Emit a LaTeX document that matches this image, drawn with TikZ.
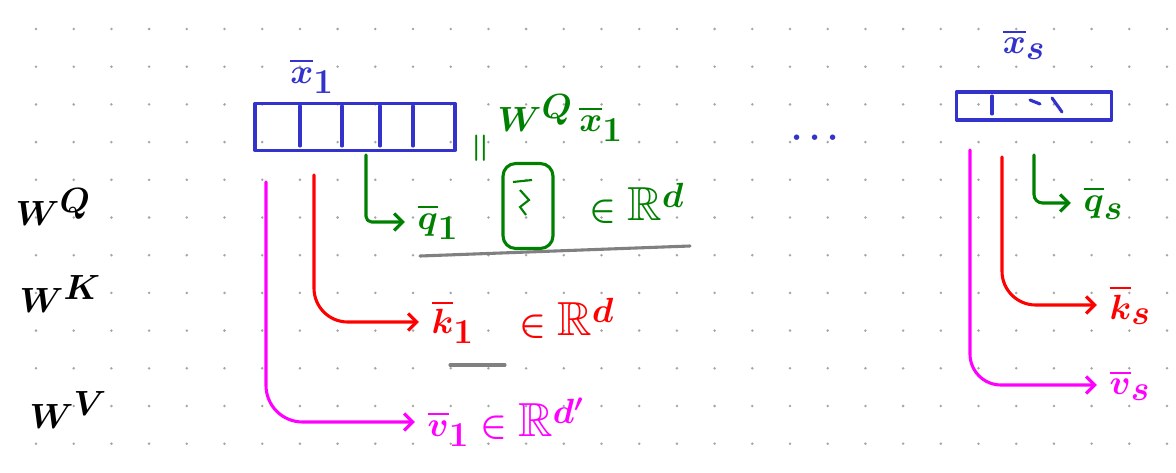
\documentclass[tikz,border=0pt]{standalone}
\usepackage{amssymb}
\usepackage{tikz}
\usetikzlibrary{arrows.meta}

\definecolor{penblue}{RGB}{51,51,204}
\definecolor{pengreen}{RGB}{0,128,0}
\definecolor{penred}{RGB}{255,0,0}
\definecolor{penpink}{RGB}{255,0,255}
\definecolor{pengray}{RGB}{128,128,128}

\tikzset{
  pen/.style={line width=2.2pt, line cap=round, line join=round},
  hand/.style={inner sep=1pt, anchor=west, font=\fontsize{34}{38}\selectfont\boldmath},
  arrowpen/.style={pen, ->, shorten >=8pt},
}

\begin{document}
\begin{tikzpicture}[x=0.025cm, y=-0.025cm, >={Straight Barb[length=6pt,width=12pt]}]
  \useasboundingbox (0,0) rectangle (1176,473);

  % dotted paper
  \foreach \i in {0,...,30}
    \foreach \j in {0,...,11}
      \fill[pengray!70] (36+37.7*\i, 29+37.7*\j) circle (1.4);

  % weight matrices on the left
  \node[hand] (WQ) at (14,207) {$W^{Q}$};
  \node[hand] (WK) at (18,294) {$W^{K}$};
  \node[hand] (WV) at (28,410) {$W^{V}$};

  % first token
  \node[pen, draw=penblue, minimum width=200*0.025cm, minimum height=47*0.025cm, inner sep=0pt] (x1box) at (355,127) {};
  \foreach \t in {300,342,380,413}
    \draw[pen, penblue] (\t,106) -- (\t,146);
  \node[hand, penblue, anchor=center] (x1) at (312,76) {$\overline{x}_1$};

  % query
  \node[hand, pengreen] (wqx) at (496,118) {$W^{Q}\,\overline{x}_1$};
  \node[hand, pengreen, rotate=90, anchor=center] (eqq) at (482,148) {$=$};
  \node[hand, pengreen] (q1) at (416,222) {$\overline{q}_1$};
  \node[pen, draw=pengreen, rounded corners=9pt, minimum width=50*0.025cm, minimum height=85*0.025cm] (q1vec) at (528,206) {};
  \draw[line width=1.5pt, pengreen] (513,182) -- (532,180);
  \draw[line width=1.5pt, pengreen] (520,190) -- (529,200) -- (520,207) -- (526,215);
  \node[hand, pengreen] (q1in) at (588,203) {$\in\mathbb{R}^{d}$};
  \coordinate (q1start) at (366,155);
  \draw[arrowpen, pengreen, rounded corners=4pt] (q1start) |- (q1.west);
  \draw[pen, pengray] (420,256) -- (690,246);

  % key
  \node[hand, penred] (k1) at (430,322) {$\overline{k}_1$};
  \node[hand, penred] (k1in) at (518,318) {$\in\mathbb{R}^{d}$};
  \coordinate (k1start) at (314,175);
  \draw[arrowpen, penred, rounded corners=24pt] (k1start) |- (k1.west);
  \draw[pen, pengray] (450,365) -- (505,365);

  % value
  \node[hand, penpink] (v1) at (426,422) {$\overline{v}_1\in\mathbb{R}^{d'}$};
  \coordinate (v1start) at (266,182);
  \draw[arrowpen, penpink, rounded corners=26pt] (v1start) |- (v1.west);

  % more tokens
  \node[hand, penblue, anchor=center] (dots) at (815,138) {$\cdots$};

  % last token
  \node[pen, draw=penblue, minimum width=155*0.025cm, minimum height=28*0.025cm, inner sep=0pt] (xsbox) at (1034,106) {};
  \draw[pen, penblue] (992,96) -- (992,114);
  \draw[pen, penblue] (1030,100) -- (1040,104);
  \draw[pen, penblue] (1052,98) -- (1062,112);
  \node[hand, penblue, anchor=center] (xs) at (1024,44) {$\overline{x}_s$};

  \node[hand, pengreen] (qs) at (1082,203) {$\overline{q}_s$};
  \coordinate (qsstart) at (1034,155);
  \draw[arrowpen, pengreen, rounded corners=6pt] (qsstart) |- (qs.west);

  \node[hand, penred] (ks) at (1108,305) {$\overline{k}_s$};
  \coordinate (ksstart) at (1002,157);
  \draw[arrowpen, penred, rounded corners=24pt] (ksstart) |- (ks.west);

  \node[hand, penpink] (vs) at (1108,385) {$\overline{v}_s$};
  \coordinate (vsstart) at (970,150);
  \draw[arrowpen, penpink, rounded corners=22pt] (vsstart) |- (vs.west);
\end{tikzpicture}
\end{document}
